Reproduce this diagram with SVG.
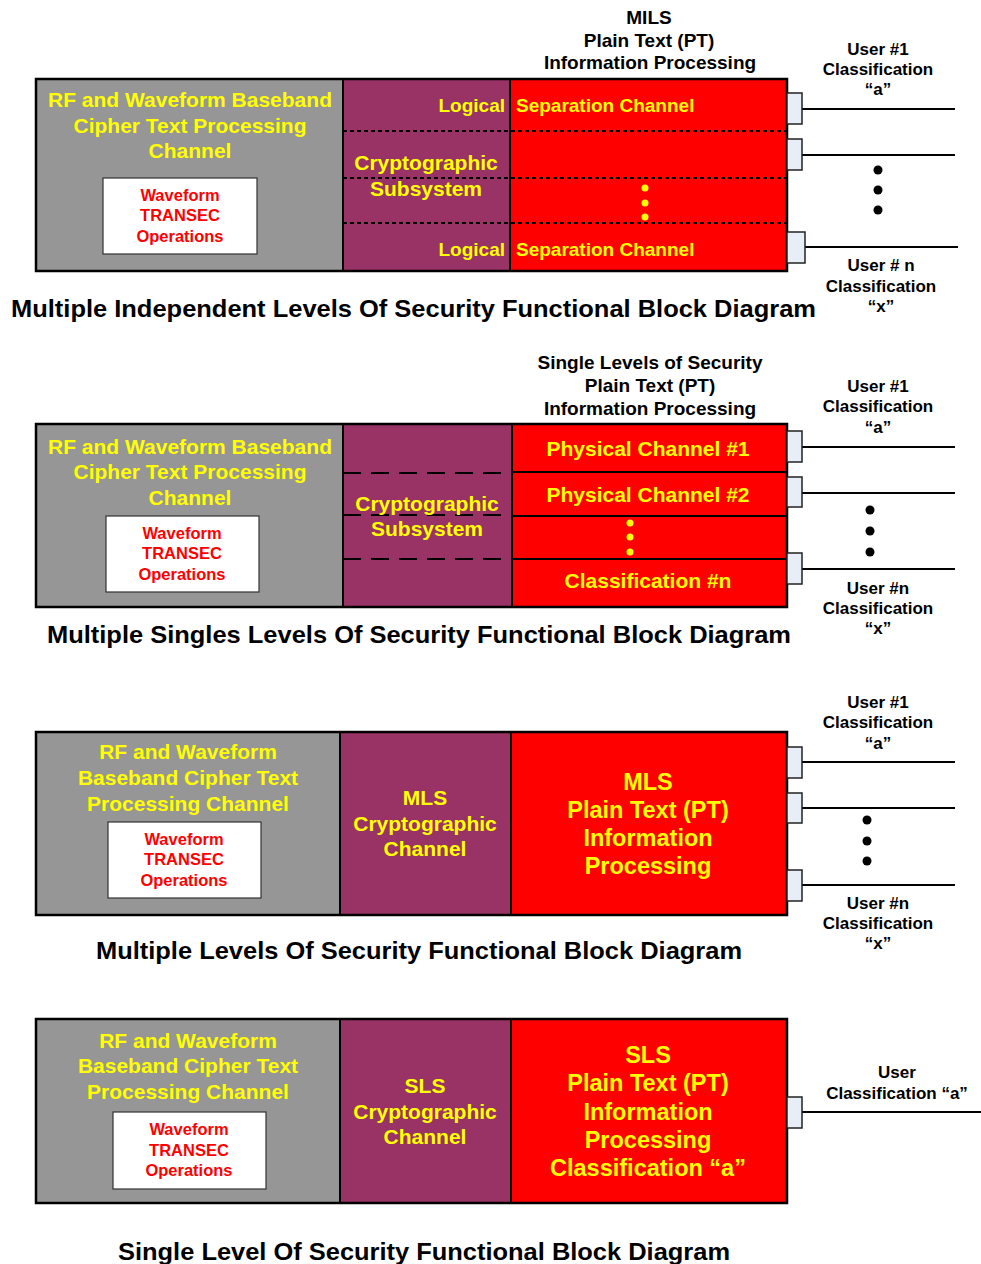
<svg xmlns="http://www.w3.org/2000/svg" width="981" height="1264" viewBox="0 0 981 1264">
<style>
text{font-family:"Liberation Sans",Arial,sans-serif;font-weight:bold}
.gray{fill:#969696;stroke:#000;stroke-width:2}
.purp{fill:#993366;stroke:#000;stroke-width:2}
.red{fill:#FF0000;stroke:#000;stroke-width:2}
.outer{fill:none;stroke:#000;stroke-width:2.5}
.wbox{fill:#fff;stroke:#333;stroke-width:1.2}
.y19{fill:#FFFF00;font-size:19px}
.y21{fill:#FFFF00;font-size:21px;text-anchor:middle}
.y23{fill:#FFFF00;font-size:23.5px;text-anchor:middle}
.wf{fill:#FF0000;font-size:16.5px;text-anchor:middle}
.lbl{fill:#000;font-size:19px;text-anchor:middle}
.usr{fill:#000;font-size:17px;text-anchor:middle}
.title{fill:#000;font-size:24px}
.port{fill:#E8EEF7;stroke:#222;stroke-width:1.5}
.wire{stroke:#000;stroke-width:2;fill:none}
.dsm{stroke:#000;stroke-width:2;stroke-dasharray:4 3}
.dlg{stroke:#000;stroke-width:2;stroke-dasharray:18 10}
.bdot{fill:#000}
.ydot{fill:#FFFF00}
</style>

<!-- ===== Diagram 1: MILS ===== -->
<g id="d1-rf">
<rect class="gray" x="36" y="79" width="307" height="192"/>
<text class="y21" x="190" y="106.5">RF and Waveform Baseband</text>
<text class="y21" x="190" y="132.5">Cipher Text Processing</text>
<text class="y21" x="190" y="157.5">Channel</text>
</g>
<g id="d1-transec">
<rect class="wbox" x="103" y="178" width="154" height="76"/>
<text class="wf" x="180" y="201">Waveform</text>
<text class="wf" x="180" y="221">TRANSEC</text>
<text class="wf" x="180" y="242">Operations</text>
</g>
<g id="d1-crypto">
<rect class="purp" x="343" y="79" width="167" height="192"/>
<text class="y21" x="426" y="169.5">Cryptographic</text>
<text class="y21" x="426" y="195.5">Subsystem</text>
</g>
<g id="d1-pt">
<rect class="red" x="510" y="79" width="277" height="192"/>
<circle class="ydot" cx="645" cy="188" r="3.5"/>
<circle class="ydot" cx="645" cy="203" r="3.5"/>
<circle class="ydot" cx="645" cy="217" r="3.5"/>
</g>
<g id="d1-sep">
<line class="dsm" x1="343" y1="131" x2="787" y2="131"/>
<line class="dsm" x1="343" y1="178" x2="787" y2="178"/>
<line class="dsm" x1="343" y1="223" x2="787" y2="223"/>
<text class="y19" x="505" y="111.7" text-anchor="end">Logical</text>
<text class="y19" x="516" y="111.7">Separation Channel</text>
<text class="y19" x="505" y="255.7" text-anchor="end">Logical</text>
<text class="y19" x="516" y="255.7">Separation Channel</text>
</g>
<rect class="outer" x="36" y="79" width="751" height="192"/>
<g id="d1-labels">
<text class="lbl" x="649" y="23.5">MILS</text>
<text class="lbl" x="649" y="46.5">Plain Text (PT)</text>
<text class="lbl" x="650" y="69">Information Processing</text>
<text class="usr" x="878" y="55">User #1</text>
<text class="usr" x="878" y="75">Classification</text>
<text class="usr" x="878" y="95">“a”</text>
<text class="usr" x="881" y="271">User # n</text>
<text class="usr" x="881" y="292">Classification</text>
<text class="usr" x="881" y="312">“x”</text>
<text class="title" x="11" y="316.5" textLength="805" lengthAdjust="spacingAndGlyphs">Multiple Independent Levels Of Security Functional Block Diagram</text>
</g>

<!-- ===== Diagram 2: MSLS ===== -->
<g id="d2-rf">
<rect class="gray" x="36" y="424" width="307" height="183"/>
<text class="y21" x="190" y="453.5">RF and Waveform Baseband</text>
<text class="y21" x="190" y="478.5">Cipher Text Processing</text>
<text class="y21" x="190" y="504.5">Channel</text>
</g>
<g id="d2-transec">
<rect class="wbox" x="106" y="516" width="153" height="76"/>
<text class="wf" x="182" y="539">Waveform</text>
<text class="wf" x="182" y="559">TRANSEC</text>
<text class="wf" x="182" y="580">Operations</text>
</g>
<g id="d2-crypto">
<rect class="purp" x="343" y="424" width="169" height="183"/>
<line class="dlg" x1="343" y1="473" x2="512" y2="473"/>
<line class="dlg" x1="343" y1="515" x2="512" y2="515"/>
<line class="dlg" x1="343" y1="559" x2="512" y2="559"/>
<text class="y21" x="427" y="510.5">Cryptographic</text>
<text class="y21" x="427" y="535.5">Subsystem</text>
</g>
<g id="d2-ch1">
<rect class="red" x="512" y="424" width="275" height="48"/>
<text class="y21" x="648" y="455.5">Physical Channel #1</text>
</g>
<g id="d2-ch2">
<rect class="red" x="512" y="472" width="275" height="44"/>
<text class="y21" x="648" y="501.5">Physical Channel #2</text>
</g>
<g id="d2-chdots">
<rect class="red" x="512" y="516" width="275" height="43"/>
<circle class="ydot" cx="630" cy="523" r="3.5"/>
<circle class="ydot" cx="630" cy="537" r="3.5"/>
<circle class="ydot" cx="630" cy="552" r="3.5"/>
</g>
<g id="d2-chn">
<rect class="red" x="512" y="559" width="275" height="48"/>
<text class="y21" x="648" y="587.5">Classification #n</text>
</g>
<rect class="outer" x="36" y="424" width="751" height="183"/>
<g id="d2-labels">
<text class="lbl" x="650" y="369">Single Levels of Security</text>
<text class="lbl" x="650" y="392">Plain Text (PT)</text>
<text class="lbl" x="650" y="415">Information Processing</text>
<text class="usr" x="878" y="392">User #1</text>
<text class="usr" x="878" y="412">Classification</text>
<text class="usr" x="878" y="433">“a”</text>
<text class="usr" x="878" y="594">User #n</text>
<text class="usr" x="878" y="614">Classification</text>
<text class="usr" x="878" y="634">“x”</text>
<text class="title" x="47" y="642.5" textLength="744" lengthAdjust="spacingAndGlyphs">Multiple Singles Levels Of Security Functional Block Diagram</text>
</g>

<!-- ===== Diagram 3: MLS ===== -->
<g id="d3-rf">
<rect class="gray" x="36" y="732" width="304" height="183"/>
<text class="y21" x="188" y="758.5">RF and Waveform</text>
<text class="y21" x="188" y="784.5">Baseband Cipher Text</text>
<text class="y21" x="188" y="810.5">Processing Channel</text>
</g>
<g id="d3-transec">
<rect class="wbox" x="108" y="822" width="153" height="76"/>
<text class="wf" x="184" y="845">Waveform</text>
<text class="wf" x="184" y="865">TRANSEC</text>
<text class="wf" x="184" y="886">Operations</text>
</g>
<g id="d3-crypto">
<rect class="purp" x="340" y="732" width="171" height="183"/>
<text class="y21" x="425" y="804.5">MLS</text>
<text class="y21" x="425" y="830.5">Cryptographic</text>
<text class="y21" x="425" y="855.5">Channel</text>
</g>
<g id="d3-pt">
<rect class="red" x="511" y="732" width="276" height="183"/>
<text class="y23" x="648" y="789.5">MLS</text>
<text class="y23" x="648" y="817.5">Plain Text (PT)</text>
<text class="y23" x="648" y="845.5">Information</text>
<text class="y23" x="648" y="873.5">Processing</text>
</g>
<rect class="outer" x="36" y="732" width="751" height="183"/>
<g id="d3-labels">
<text class="usr" x="878" y="708">User #1</text>
<text class="usr" x="878" y="728">Classification</text>
<text class="usr" x="878" y="749">“a”</text>
<text class="usr" x="878" y="909">User #n</text>
<text class="usr" x="878" y="929">Classification</text>
<text class="usr" x="878" y="949">“x”</text>
<text class="title" x="96" y="958.5" textLength="646" lengthAdjust="spacingAndGlyphs">Multiple Levels Of Security Functional Block Diagram</text>
</g>

<!-- ===== Diagram 4: SLS ===== -->
<g id="d4-rf">
<rect class="gray" x="36" y="1019" width="304" height="184"/>
<text class="y21" x="188" y="1047.5">RF and Waveform</text>
<text class="y21" x="188" y="1072.5">Baseband Cipher Text</text>
<text class="y21" x="188" y="1098.5">Processing Channel</text>
</g>
<g id="d4-transec">
<rect class="wbox" x="113" y="1112" width="153" height="77"/>
<text class="wf" x="189" y="1135">Waveform</text>
<text class="wf" x="189" y="1156">TRANSEC</text>
<text class="wf" x="189" y="1176">Operations</text>
</g>
<g id="d4-crypto">
<rect class="purp" x="340" y="1019" width="171" height="184"/>
<text class="y21" x="425" y="1092.5">SLS</text>
<text class="y21" x="425" y="1118.5">Cryptographic</text>
<text class="y21" x="425" y="1143.5">Channel</text>
</g>
<g id="d4-pt">
<rect class="red" x="511" y="1019" width="276" height="184"/>
<text class="y23" x="648" y="1062.5">SLS</text>
<text class="y23" x="648" y="1090.5">Plain Text (PT)</text>
<text class="y23" x="648" y="1119.5">Information</text>
<text class="y23" x="648" y="1147.5">Processing</text>
<text class="y23" x="648" y="1175.5">Classification “a”</text>
</g>
<rect class="outer" x="36" y="1019" width="751" height="184"/>
<g id="d4-labels">
<text class="usr" x="897" y="1078">User</text>
<text class="usr" x="897" y="1099">Classification “a”</text>
<text class="title" x="118" y="1259.5" textLength="612" lengthAdjust="spacingAndGlyphs">Single Level Of Security Functional Block Diagram</text>
</g>

<!-- ===== Connectors (ports and user lines) ===== -->
<g id="connectors">
<line class="wire" x1="802" y1="109" x2="955" y2="109"/>
<line class="wire" x1="802" y1="155" x2="955" y2="155"/>
<line class="wire" x1="805" y1="247" x2="958" y2="247"/>
<rect class="port" x="787" y="93" width="15" height="31"/>
<rect class="port" x="787" y="139" width="15" height="31"/>
<rect class="port" x="787" y="232" width="18" height="31"/>
<circle class="bdot" cx="878" cy="170" r="4.5"/>
<circle class="bdot" cx="878" cy="190" r="4.5"/>
<circle class="bdot" cx="878" cy="210" r="4.5"/>

<line class="wire" x1="802" y1="447" x2="955" y2="447"/>
<line class="wire" x1="802" y1="493" x2="955" y2="493"/>
<line class="wire" x1="802" y1="569" x2="955" y2="569"/>
<rect class="port" x="787" y="431" width="15" height="31"/>
<rect class="port" x="787" y="477" width="15" height="30"/>
<rect class="port" x="787" y="553" width="15" height="31"/>
<circle class="bdot" cx="870" cy="510" r="4.5"/>
<circle class="bdot" cx="870" cy="531" r="4.5"/>
<circle class="bdot" cx="870" cy="552" r="4.5"/>

<line class="wire" x1="802" y1="762" x2="955" y2="762"/>
<line class="wire" x1="802" y1="808" x2="955" y2="808"/>
<line class="wire" x1="802" y1="885" x2="955" y2="885"/>
<rect class="port" x="787" y="747" width="15" height="31"/>
<rect class="port" x="787" y="793" width="15" height="30"/>
<rect class="port" x="787" y="870" width="15" height="31"/>
<circle class="bdot" cx="867" cy="820" r="4.5"/>
<circle class="bdot" cx="867" cy="841" r="4.5"/>
<circle class="bdot" cx="867" cy="861" r="4.5"/>

<line class="wire" x1="802" y1="1112" x2="981" y2="1112"/>
<rect class="port" x="787" y="1097" width="15" height="31"/>
</g>
</svg>
